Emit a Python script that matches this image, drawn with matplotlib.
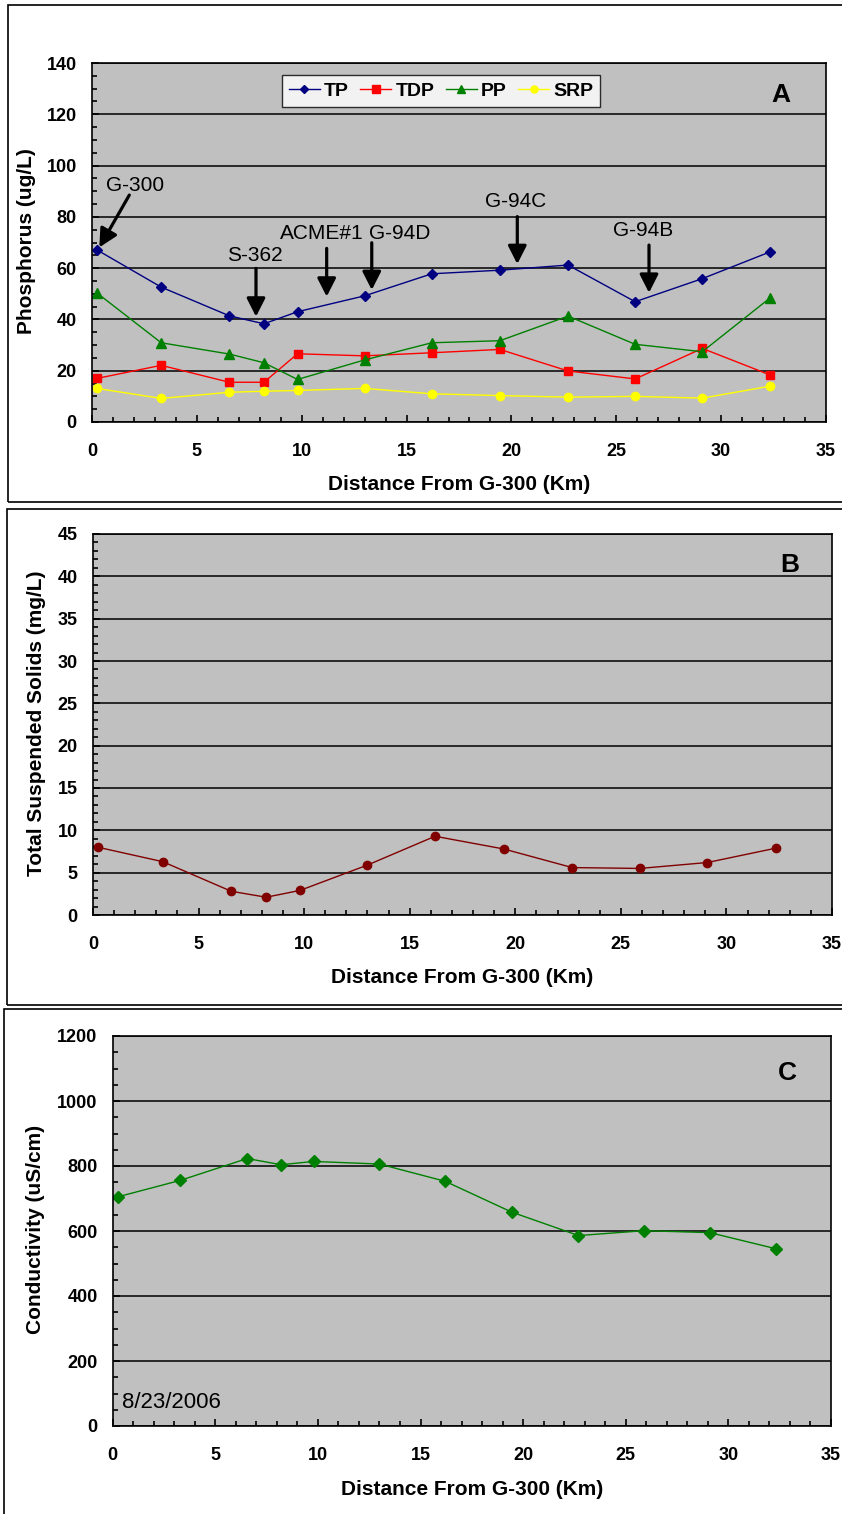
import matplotlib
matplotlib.use('Agg')
import matplotlib.pyplot as plt
from matplotlib.patches import Rectangle
from matplotlib.ticker import MultipleLocator

plt.rcParams['font.family'] = ['Liberation Sans', 'DejaVu Sans']

# данные
distance_km = [0.24, 3.3, 6.55, 8.2, 9.8, 13.0, 16.2, 19.45, 22.7, 25.9, 29.1, 32.35]

tp = [67.1, 52.6, 41.4, 38.3, 43.0, 49.2, 57.8, 59.2, 61.2, 46.9, 55.9, 66.4]
tdp = [17.0, 22.1, 15.5, 15.5, 26.6, 25.8, 27.0, 28.3, 19.9, 16.8, 28.7, 18.3]
pp = [50.3, 30.9, 26.5, 23.1, 16.6, 24.2, 30.9, 31.7, 41.3, 30.3, 27.4, 48.5]
srp = [13.1, 9.2, 11.6, 12.0, 12.3, 13.1, 11.0, 10.3, 9.7, 10.0, 9.3, 14.0]

tss = [8.0, 6.3, 2.8, 2.1, 2.9, 5.9, 9.3, 7.8, 5.6, 5.5, 6.2, 7.9]

conductivity = [705, 756, 823, 804, 814, 806, 753, 658, 586, 601, 595, 545]

sample_date = '8/23/2006'
x_title = 'Distance From G-300 (Km)'

BG = '#c0c0c0'
W, H = 842, 1514

fig = plt.figure(figsize=(W / 100, H / 100), dpi=100)


# ф-ция для оформления одной панели
def style_axes(ax, ymax, ymajor, yminor, ylabel, ylab_x, xlab_y, letter, letter_xy):
    ax.set_facecolor(BG)
    ax.set_xlim(0, 35)
    ax.set_ylim(0, ymax)
    ax.xaxis.set_major_locator(MultipleLocator(5))
    ax.xaxis.set_minor_locator(MultipleLocator(1))
    ax.yaxis.set_major_locator(MultipleLocator(ymajor))
    ax.yaxis.set_minor_locator(MultipleLocator(yminor))
    ax.tick_params(which='both', direction='in', width=1.2, colors='black')
    ax.tick_params(which='major', length=5)
    ax.tick_params(which='minor', length=3.5)
    ax.tick_params(axis='x', pad=15, labelsize=13)
    ax.tick_params(axis='y', pad=11, labelsize=13)
    for lab in ax.get_xticklabels() + ax.get_yticklabels():
        lab.set_fontweight('bold')
    ax.yaxis.grid(True, which='major', color='black', lw=1.1)
    ax.set_axisbelow(True)
    for sp in ax.spines.values():
        sp.set_linewidth(1.2)
        sp.set_color('black')
    ax.set_xlabel(x_title, fontsize=15, fontweight='bold')
    ax.xaxis.set_label_coords(0.5, xlab_y)
    ax.xaxis.label.set_va('center')
    ax.set_ylabel(ylabel, fontsize=15, fontweight='bold')
    ax.yaxis.set_label_coords(ylab_x, 0.503)
    ax.yaxis.label.set_va('center')
    ax.text(letter_xy[0], letter_xy[1], letter, transform=ax.transAxes,
            fontsize=19, fontweight='bold', ha='center', va='center')


# рамки вокруг панелей (у нижней панели низ обрезан)
for x0, y0, y1 in [(8, 5, 502), (7, 509, 1005), (4, 1009, 1530)]:
    fig.patches.append(Rectangle((x0 / W, 1 - y1 / H), 1.2, (y1 - y0) / H,
                                 transform=fig.transFigure, fill=False,
                                 edgecolor='black', lw=1.2))

# панель A
ax1 = fig.add_axes([92 / W, 1 - 422 / H, 734 / W, 359 / H])
ax1.plot(distance_km, tp, color='#000080', marker='D', ms=5, lw=1, label='TP')
ax1.plot(distance_km, tdp, color='#ff0000', marker='s', ms=6, lw=1, label='TDP')
ax1.plot(distance_km, pp, color='#008000', marker='^', ms=7, lw=1, label='PP')
ax1.plot(distance_km, srp, color='#ffff00', marker='o', ms=6, lw=1, label='SRP')
style_axes(ax1, 140, 20, 5, 'Phosphorus (ug/L)', -0.0886, -0.173, 'A', (0.9387, 0.911))

leg = ax1.legend(loc='center', bbox_to_anchor=(0.4755, 0.922), ncol=4,
                 prop={'weight': 'bold', 'size': 14}, frameon=True, fancybox=False,
                 handlelength=1.6, handletextpad=0.2, columnspacing=0.6,
                 borderpad=0.35, borderaxespad=0, markerscale=0.85)
leg.get_frame().set_edgecolor('black')
leg.get_frame().set_linewidth(1.0)
leg.get_frame().set_facecolor('white')

# подписи станций: (название, текст x, текст y, начало стрелки, конец стрелки)
stations = [
    ('G-300', 2.04, 92.4, (1.78, 88.5), (0.35, 68.1)),
    ('S-362', 7.76, 65.1, (7.82, 59.9), (7.82, 41.1)),
    ('ACME#1', 10.94, 73.6, (11.19, 67.7), (11.19, 48.9)),
    ('G-94D', 14.66, 73.7, (13.34, 69.9), (13.34, 51.5)),
    ('G-94C', 20.21, 86.1, (20.28, 80.1), (20.28, 61.6)),
    ('G-94B', 26.29, 74.6, (26.56, 69.0), (26.56, 50.4)),
]
for name, tx, ty, tail, head in stations:
    ax1.text(tx, ty, name, fontsize=15, ha='center', va='center')
    ax1.annotate('', xy=head, xytext=tail,
                 arrowprops=dict(arrowstyle='-|>,head_length=0.55,head_width=0.28',
                                 lw=2.3, color='black', shrinkA=0, shrinkB=0,
                                 mutation_scale=20))

# панель B
ax2 = fig.add_axes([93 / W, 1 - 915 / H, 739 / W, 381 / H])
ax2.plot(distance_km, tss, color='#800000', marker='o', ms=6, lw=1)
style_axes(ax2, 45, 5, 1, 'Total Suspended Solids (mg/L)', -0.0758, -0.163, 'B', (0.943, 0.919))

# панель C
ax3 = fig.add_axes([112.8 / W, 1 - 1426 / H, 718 / W, 390 / H])
ax3.plot(distance_km, conductivity, color='#008000', marker='D', ms=6, lw=1)
style_axes(ax3, 1200, 200, 50, 'Conductivity (uS/cm)', -0.1077, -0.164, 'C', (0.940, 0.905))
ax3.text(0.0128, 0.059, sample_date, transform=ax3.transAxes, fontsize=16,
         ha='left', va='center')

fig.savefig('out.png', dpi=100, facecolor='white')
